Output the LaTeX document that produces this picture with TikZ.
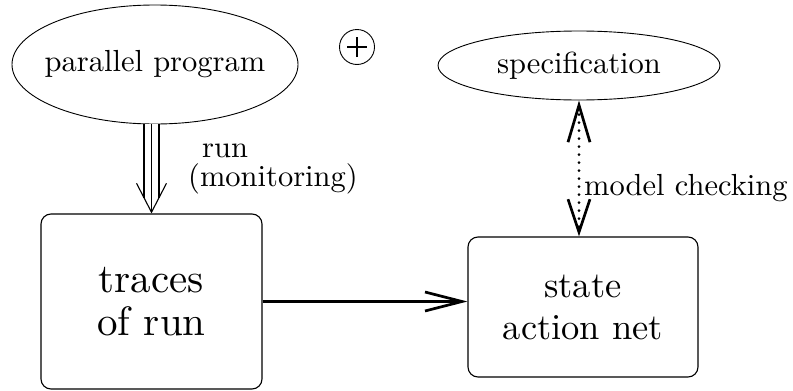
\documentclass[tikz,border=0pt]{standalone}
\usepackage{fontspec}
\setmainfont{lmroman10-regular.otf}
\usetikzlibrary{shapes.geometric,arrows.meta}

\tikzset{
  oval/.style={ellipse, draw, line width=0.9pt, inner xsep=-14pt, inner ysep=0pt, font=\fontsize{30.5}{31}\selectfont},
  block/.style={draw, line width=1.1pt, rounded corners=10pt, align=center, inner sep=0pt},
  lbl/.style={inner sep=0pt, font=\fontsize{30.5}{31}\selectfont},
  barb/.style={line width=2.7pt, -{Straight Barb[length=37pt,width=19pt,line width=2.7pt]}},
}

\begin{document}
\begin{tikzpicture}[x=1pt,y=-1pt]
    \useasboundingbox (0,0) rectangle (793,391);

    % Эллипсы
    \node[oval, minimum width=286pt, minimum height=119pt] (prog) at (155,64.5) {parallel program};
    \node[oval, minimum width=282pt, minimum height=69pt] (spec) at (579,65.5) {specification};

    % Знак плюс в кружке
    \node[circle, draw, line width=0.9pt, minimum size=35pt, inner sep=0pt] (plus) at (357,47) {};
    \draw[line width=1.6pt] ([xshift=-10pt]plus.center) -- ([xshift=10pt]plus.center);
    \draw[line width=1.6pt] ([yshift=-10pt]plus.center) -- ([yshift=10pt]plus.center);

    % Блоки
    \node[block, minimum width=221pt, minimum height=175pt,
          font=\fontsize{41}{43}\selectfont] (traces) at (151.5,301.5) {traces\\of run};
    \node[block, minimum width=230pt, minimum height=140pt,
          font=\fontsize{36.5}{42}\selectfont] (net) at (583,307) {state\\action net};

    % Подписи
    \node[lbl, anchor=base west] (runlbl) at (202,157) {run};
    \node[lbl, anchor=base west] (monlbl) at (188,186) {(monitoring)};
    \node[lbl, anchor=base west] (mclbl) at (584,195) {model checking};

    % Тройная стрелка
    \draw[double distance=13.9pt, line width=1.1pt, shorten >=15pt]
        (prog.south -| traces.north) -- (traces.north);
    \draw[line width=1.1pt, -{Straight Barb[length=29pt,width=30pt,line width=1.1pt]}]
        (prog.south -| traces.north) -- (traces.north);

    % Стрелки
    \draw[barb] (traces.east) -- (traces.east -| net.west);
    \draw[barb, {Straight Barb[length=37pt,width=22pt,line width=2.7pt]}-{Straight Barb[length=33pt,width=22pt,line width=2.7pt]},
          dash pattern=on 0pt off 8pt, line cap=round, line width=3pt]
        (spec.south) -- (spec.south |- net.north);
\end{tikzpicture}
\end{document}
